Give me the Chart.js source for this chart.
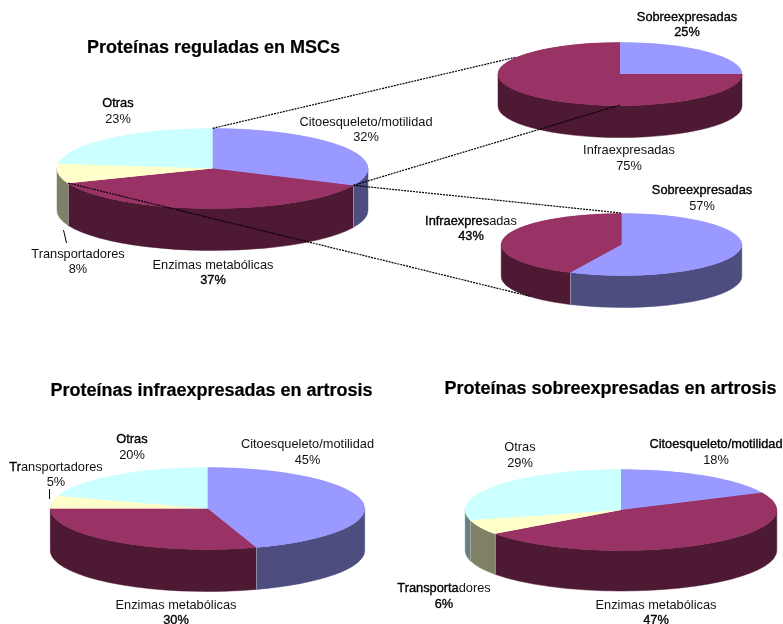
<!DOCTYPE html>
<html lang="es">
<head>
<meta charset="utf-8">
<title>Proteínas reguladas</title>
<script src="https://cdn.jsdelivr.net/npm/chart.js@4/dist/chart.umd.min.js"></script>
<style>
  html, body { margin: 0; background: #fff; }
  #page { position: relative; width: 783px; height: 624px; overflow: hidden; font-family: "Liberation Sans", Arial, sans-serif; color: #111; }
  #page canvas { position: absolute; }
  .title { position: absolute; transform: translate(-50%, -50%); font-size: 18px; font-weight: bold; color: #000; white-space: nowrap; -webkit-text-stroke: 0.2px #000; }
  .label { position: absolute; transform: translate(-50%, -50%); font-size: 12.8px; line-height: 15.5px; white-space: nowrap; text-align: center; }
  .strike { -webkit-text-stroke: 0.35px #000; color: #000; }
</style>
</head>
<body>
<div id="page"></div>
<script>
// values
const functionNames = ["Citoesqueleto/motilidad", "Enzimas metabólicas", "Transportadores", "Otras"];
const expressionNames = ["Sobreexpresadas", "Infraexpresadas"];
const mscValues = [32, 37, 8, 23];
const cytoskeletonValues = [25, 75];
const enzymeValues = [57, 43];
const downValues = [45, 30, 5, 20];
const upValues = [18, 47, 6, 29];

const topColors = ["#9999FF", "#993366", "#FFFFCC", "#CCFFFF"];
const wallColors = ["#4D4D80", "#4D1933", "#808066", "#668080"];
const expressionTop = ["#9999FF", "#993366"];
const expressionWall = ["#4D4D80", "#4D1933"];

const page = document.getElementById("page");

// draws the side wall under each slice and flattens the pie into an ellipse
const tiltPlugin = {
    id: "tilt",
    beforeDatasetsDraw(chart, args, opts) {
        const ctx = chart.ctx;
        const arcs = chart.getDatasetMeta(0).data;
        const cx = arcs[0].x;
        const cy = arcs[0].y;
        const k = opts.ry / opts.rx;

        // only the part of a slice between 0 and PI faces the viewer
        arcs.forEach((arc, i) => {
            const a0 = Math.max(arc.startAngle, 0);
            const a1 = Math.min(arc.endAngle, Math.PI);
            if (a1 <= a0) return;
            ctx.fillStyle = opts.wall[i];
            ctx.strokeStyle = opts.wall[i];
            ctx.lineWidth = 0.5;
            ctx.beginPath();
            ctx.ellipse(cx, cy + opts.depth, opts.rx, opts.ry, 0, a0, a1);
            ctx.ellipse(cx, cy, opts.rx, opts.ry, 0, a1, a0, true);
            ctx.closePath();
            ctx.fill();
            ctx.stroke();
        });

        // thin pale edge where two slices meet on the front wall
        ctx.strokeStyle = "rgba(200,200,215,0.55)";
        ctx.lineWidth = 1;
        arcs.forEach(arc => {
            if (Math.sin(arc.endAngle) > 0.05) {
                const x = cx + opts.rx * Math.cos(arc.endAngle);
                const y = cy + opts.ry * Math.sin(arc.endAngle);
                ctx.beginPath();
                ctx.moveTo(Math.round(x) + 0.5, y);
                ctx.lineTo(Math.round(x) + 0.5, y + opts.depth);
                ctx.stroke();
            }
        });

        ctx.save();
        ctx.translate(cx, cy);
        ctx.scale(1, k);
        ctx.translate(-cx, -cy);

        // same colours under the slices so their seams do not show the wall
        arcs.forEach((arc, i) => {
            ctx.fillStyle = opts.top[i];
            ctx.strokeStyle = opts.top[i];
            ctx.lineWidth = 0.6;
            ctx.beginPath();
            ctx.moveTo(cx, cy);
            ctx.arc(cx, cy, arc.outerRadius, arc.startAngle, arc.endAngle);
            ctx.closePath();
            ctx.fill();
            ctx.stroke();
        });
    },
    afterDatasetsDraw(chart) {
        chart.ctx.restore();
    }
};

function makePie(values, labels, top, wall, cx, cy, rx, ry, depth) {
    const size = Math.ceil(rx * 2) + 6;
    const canvas = document.createElement("canvas");
    canvas.width = size;
    canvas.height = size;
    canvas.style.left = (cx - size / 2) + "px";
    canvas.style.top = (cy - size / 2) + "px";
    page.appendChild(canvas);
    const chart = new Chart(canvas.getContext("2d"), {
        type: "pie",
        data: {
            labels: labels,
            datasets: [{ data: values, backgroundColor: top, borderWidth: 0, clip: false }]
        },
        options: {
            responsive: false,
            animation: false,
            events: [],
            layout: { padding: (size - rx * 2) / 2 },
            plugins: {
                legend: { display: false },
                tooltip: { enabled: false },
                tilt: { rx: rx, ry: ry, depth: depth, top: top, wall: wall }
            }
        },
        plugins: [tiltPlugin]
    });
    return { chart, cx, cy, rx, ry, depth };
}

const mscPie = makePie(mscValues, functionNames, topColors, wallColors, 212.7, 168.3, 155.5, 40, 42);
const cytoPie = makePie(cytoskeletonValues, expressionNames, expressionTop, expressionWall, 620, 73.5, 122, 31.5, 32);
const enzymePie = makePie(enzymeValues, expressionNames, expressionTop, expressionWall, 621, 244, 120.3, 31, 32);
makePie(downValues, functionNames, topColors, wallColors, 207, 508, 157.2, 41, 42);
makePie(upValues, functionNames, topColors, wallColors, 620.8, 509.5, 155.8, 40.5, 40.5);

// dotted connectors and small leader lines go on one layer above the pies
const overlay = document.createElement("canvas");
overlay.width = 783;
overlay.height = 624;
overlay.style.left = "0";
overlay.style.top = "0";
page.appendChild(overlay);
const octx = overlay.getContext("2d");

// point on the rim of a pie for an angle in radians measured the way the arcs are
function rim(pie, angle, wall) {
    return [
        pie.cx + pie.rx * Math.cos(angle),
        pie.cy + pie.ry * Math.sin(angle) + (wall ? pie.depth : 0)
    ];
}
const deg = d => (d - 90) * Math.PI / 180;
const mscArcs = mscPie.chart.getDatasetMeta(0).data;

const connectors = [
    [rim(mscPie, mscArcs[0].startAngle), rim(cytoPie, deg(301))],
    [rim(mscPie, mscArcs[0].endAngle), rim(cytoPie, deg(180))],
    [rim(mscPie, mscArcs[0].endAngle), rim(enzymePie, deg(0))],
    [rim(mscPie, mscArcs[1].endAngle), rim(enzymePie, deg(229), true)]
];
octx.strokeStyle = "#000";
octx.lineWidth = 1.2;
octx.setLineDash([2, 1]);
connectors.forEach(c => {
    octx.beginPath();
    octx.moveTo(c[0][0], c[0][1]);
    octx.lineTo(c[1][0], c[1][1]);
    octx.stroke();
});

const leaders = [[63.5, 230, 66.5, 243], [49.5, 489, 49.5, 499]];
octx.lineWidth = 1;
octx.setLineDash([]);
leaders.forEach(l => {
    octx.beginPath();
    octx.moveTo(l[0], l[1]);
    octx.lineTo(l[2], l[3]);
    octx.stroke();
});

// text
function addTitle(text, x, y) {
    const el = document.createElement("div");
    el.className = "title";
    el.textContent = text;
    el.style.left = x + "px";
    el.style.top = y + "px";
    page.appendChild(el);
}
// struck is how many leading letters of the name print darker, boldValue does the same for the figure
function addLabel(name, value, x, y, struck, boldValue) {
    const el = document.createElement("div");
    el.className = "label";
    el.style.left = x + "px";
    el.style.top = y + "px";
    const first = document.createElement("div");
    const dark = document.createElement("span");
    dark.className = "strike";
    dark.textContent = name.slice(0, struck);
    first.appendChild(dark);
    first.appendChild(document.createTextNode(name.slice(struck)));
    const second = document.createElement("div");
    second.textContent = value + "%";
    if (boldValue) second.className = "strike";
    el.appendChild(first);
    el.appendChild(second);
    page.appendChild(el);
}

addTitle("Proteínas reguladas en MSCs", 213.5, 47);
addTitle("Proteínas infraexpresadas en artrosis", 211.5, 390);
addTitle("Proteínas sobreexpresadas en artrosis", 610.5, 388);

addLabel(functionNames[3], mscValues[3], 118, 110, 5);
addLabel(functionNames[0], mscValues[0], 366, 128.5, 0);
addLabel(functionNames[2], mscValues[2], 78, 260.5, 0);
addLabel(functionNames[1], mscValues[1], 213, 271.5, 0, true);

addLabel(expressionNames[0], cytoskeletonValues[0], 687, 23.5, 15, true);
addLabel(expressionNames[1], cytoskeletonValues[1], 629, 157, 0);
addLabel(expressionNames[0], enzymeValues[0], 702, 197, 15);
addLabel(expressionNames[1], enzymeValues[1], 471, 227.5, 11, true);

addLabel(functionNames[3], downValues[3], 132, 446, 5);
addLabel(functionNames[0], downValues[0], 307.5, 451, 0);
addLabel(functionNames[2], downValues[2], 56, 473.5, 2);
addLabel(functionNames[1], downValues[1], 176, 611.5, 0, true);

addLabel(functionNames[3], upValues[3], 520, 454, 0);
addLabel(functionNames[0], upValues[0], 716, 451, 23);
addLabel(functionNames[2], upValues[2], 444, 595, 10, true);
addLabel(functionNames[1], upValues[1], 656, 611.5, 0, true);
</script>
</body>
</html>
